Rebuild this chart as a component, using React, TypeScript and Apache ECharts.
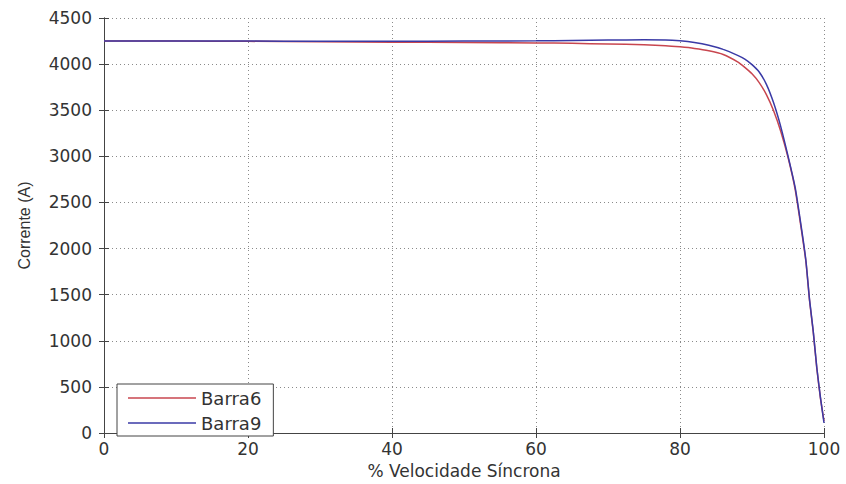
import React, { useEffect, useRef } from "react";
import * as echarts from "echarts";

const speed = [0, 10, 20, 30, 40, 50, 60, 65, 70, 75, 78, 80, 82, 84, 86, 88, 89, 90, 91, 92, 93, 94, 95, 96, 97, 97.5, 98, 98.5, 99, 99.5, 100];
const barra6 = [4250, 4250, 4247, 4242, 4238, 4235, 4230, 4225, 4218, 4210, 4200, 4187, 4170, 4145, 4105, 4025, 3965, 3895, 3800, 3670, 3495, 3270, 2990, 2640, 2130, 1850, 1430, 1100, 700, 380, 130];
const barra9 = [4250, 4250, 4250, 4248, 4248, 4250, 4252, 4257, 4262, 4263, 4262, 4253, 4235, 4205, 4160, 4095, 4055, 3995, 3915, 3780, 3580, 3320, 3005, 2660, 2150, 1860, 1440, 1110, 710, 390, 110];
const seriesNames = ["Barra6", "Barra9"];
const xTitle = "% Velocidade Síncrona";
const yTitle = "Corrente (A)";

export default function App() {
  const ref = useRef<HTMLDivElement>(null);
  useEffect(() => {
    if (!ref.current) return;
    const chart = echarts.init(ref.current, null, { renderer: "svg" });
    const font = "'DejaVu Sans', sans-serif";
    const axisColor = "#444";
    const gridLine = { show: true, lineStyle: { color: "#8a8a8a", type: [1, 3] as any, width: 1 } };
    chart.setOption({
      animation: false,
      backgroundColor: "#ffffff",
      grid: { left: 104, right: 22, top: 18, bottom: 49 },
      legend: {
        orient: "vertical",
        left: 117,
        top: 384,
        data: seriesNames,
        icon: "rect",
        itemWidth: 68,
        itemHeight: 1.5,
        itemGap: 7,
        itemTextGap: 9,
        padding: [5, 12, 4, 11],
        borderColor: "#444",
        borderWidth: 1,
        backgroundColor: "#fff",
        textStyle: { fontFamily: font, fontSize: 18, color: "#333", lineHeight: 16, height: 16 },
      },
      xAxis: [
        {
          type: "value",
          min: 0,
          max: 100,
          interval: 20,
          name: xTitle,
          nameLocation: "middle",
          nameGap: 29,
          nameTextStyle: { fontFamily: font, fontSize: 17, color: "#333" },
          axisLine: { show: true, lineStyle: { color: axisColor } },
          axisTick: { show: true, inside: true, length: 5, lineStyle: { color: axisColor } },
          axisLabel: { fontFamily: font, fontSize: 17, color: "#333", margin: 7, formatter: (v: number) => String(v) },
          splitLine: gridLine,
        },
        {
          type: "value",
          position: "top",
          min: 0,
          max: 100,
          interval: 20,
          axisLine: { show: true, lineStyle: { color: axisColor } },
          axisTick: { show: true, inside: true, length: 5, lineStyle: { color: axisColor } },
          axisLabel: { show: false },
          splitLine: { show: false },
        },
      ],
      yAxis: [
        {
          type: "value",
          min: 0,
          max: 4500,
          interval: 500,
          name: yTitle,
          nameLocation: "middle",
          nameGap: 72,
          nameTextStyle: { fontFamily: "'Liberation Sans Narrow', 'Liberation Sans', sans-serif", fontSize: 16, color: "#333" },
          axisLine: { show: true, lineStyle: { color: axisColor } },
          axisTick: { show: true, inside: true, length: 5, lineStyle: { color: axisColor } },
          axisLabel: { fontFamily: font, fontSize: 17, color: "#333", margin: 12, formatter: (v: number) => String(v) },
          splitLine: gridLine,
        },
        {
          type: "value",
          position: "right",
          min: 0,
          max: 4500,
          interval: 500,
          axisLine: { show: true, lineStyle: { color: axisColor } },
          axisTick: { show: true, inside: true, length: 5, lineStyle: { color: axisColor } },
          axisLabel: { show: false },
          splitLine: { show: false },
        },
      ],
      series: [
        {
          name: seriesNames[0],
          type: "line",
          data: speed.map((s, i) => [s, barra6[i]]),
          symbol: "none",
          smooth: 0.2,
          lineStyle: { color: "#c8464f", width: 1.5 },
          itemStyle: { color: "#c8464f" },
        },
        {
          name: seriesNames[1],
          type: "line",
          data: speed.map((s, i) => [s, barra9[i]]),
          symbol: "none",
          smooth: 0.2,
          lineStyle: { color: "#3a3aa6", width: 1.5 },
          itemStyle: { color: "#3a3aa6" },
        },
      ],
    });
    return () => chart.dispose();
  }, []);
  return <div ref={ref} style={{ width: 846, height: 484, position: "absolute", left: 0, top: 0 }} />;
}
